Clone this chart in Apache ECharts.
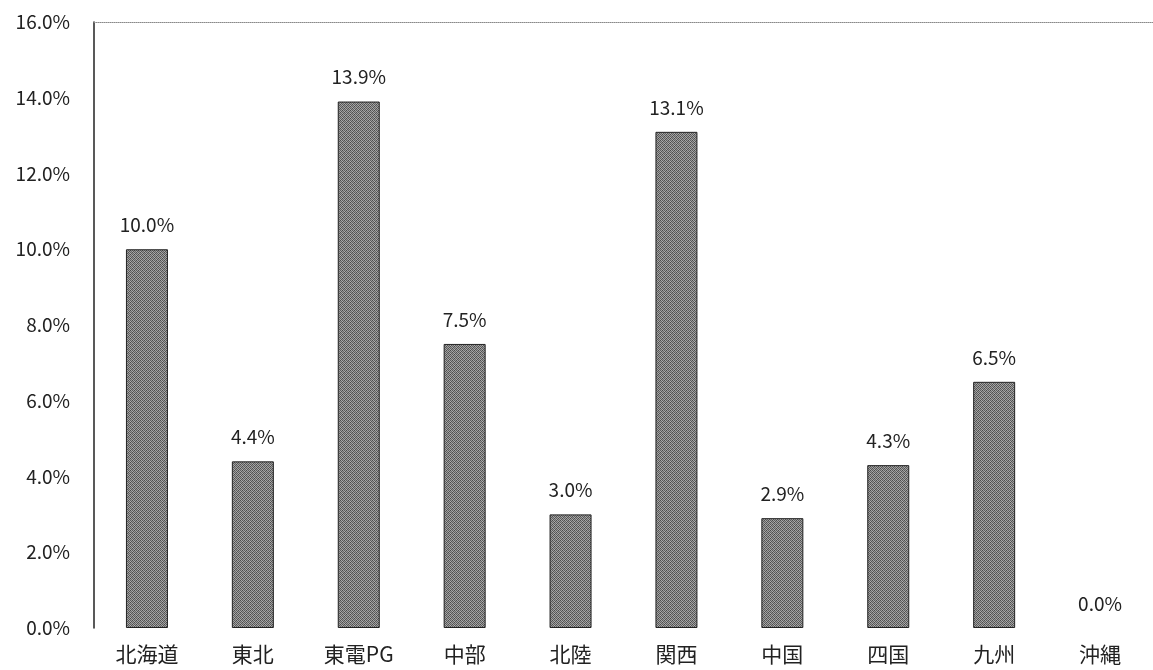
<!DOCTYPE html>
<html>
<head>
<meta charset="utf-8">
<script src="https://cdn.jsdelivr.net/npm/echarts@6/dist/echarts.min.js"></script>
<style>
  html, body { margin: 0; padding: 0; background: #fff; }
  #chart { width: 1153px; height: 670px; }
</style>
</head>
<body>
<div id="chart"></div>
<script>
// Regions and their share (%)
const categories = ['北海道', '東北', '東電PG', '中部', '北陸', '関西', '中国', '四国', '九州', '沖縄'];
const shares = [10.0, 4.4, 13.9, 7.5, 3.0, 13.1, 2.9, 4.3, 6.5, 0.0];
const yTicks = { min: 0, max: 16, interval: 2 };

// Small dithered tile used as the bar fill
function ditherTile() {
  const c = document.createElement('canvas');
  c.width = 4; c.height = 4;
  const g = c.getContext('2d');
  const shades = [
    ['#4e4e4e', '#a8a8a8', '#5c5c5c', '#9a9a9a'],
    ['#949494', '#626262', '#b0b0b0', '#555555'],
    ['#5e5e5e', '#a0a0a0', '#4a4a4a', '#a4a4a4'],
    ['#acacac', '#545454', '#989898', '#686868']
  ];
  for (let y = 0; y < 4; y++) {
    for (let x = 0; x < 4; x++) {
      g.fillStyle = shades[y][x];
      g.fillRect(x, y, 1, 1);
    }
  }
  return c;
}

const font = '"Noto Sans CJK JP", "Noto Sans", sans-serif';
const fill = { image: ditherTile(), repeat: 'repeat' };
const chart = echarts.init(document.getElementById('chart'), null, { renderer: 'canvas' });

chart.setOption({
  animation: false,
  backgroundColor: '#ffffff',
  grid: { left: 94, right: -13, top: 22, bottom: 42, containLabel: false },
  xAxis: [
    {
      type: 'category',
      data: categories,
      axisLine: { show: false },
      axisTick: { show: false },
      axisLabel: { color: '#222', fontSize: 21, fontFamily: font, margin: 16 }
    },
    {
      type: 'category',
      position: 'top',
      data: categories,
      axisLine: { show: true, lineStyle: { color: '#8a8a8a', type: [1, 1], width: 1 } },
      axisTick: { show: false },
      axisLabel: { show: false }
    }
  ],
  yAxis: {
    type: 'value',
    min: yTicks.min,
    max: yTicks.max,
    interval: yTicks.interval,
    axisLine: { show: true, lineStyle: { color: '#222', width: 1.5 } },
    axisTick: { show: false },
    splitLine: { show: false },
    axisLabel: {
      color: '#222',
      fontSize: 19,
      fontFamily: font,
      margin: 24,
      formatter: v => v.toFixed(1) + '%'
    }
  },
  series: [{
    type: 'bar',
    data: shares.map(v => ({
      value: v,
      itemStyle: { borderWidth: v > 0 ? 1 : 0 }
    })),
    barWidth: 42,
    itemStyle: {
      color: fill,
      borderColor: '#222'
    },
    label: {
      show: true,
      position: 'top',
      distance: 15,
      color: '#222',
      fontSize: 19,
      fontFamily: font,
      formatter: p => p.value.toFixed(1) + '%'
    }
  }]
});
</script>
</body>
</html>
